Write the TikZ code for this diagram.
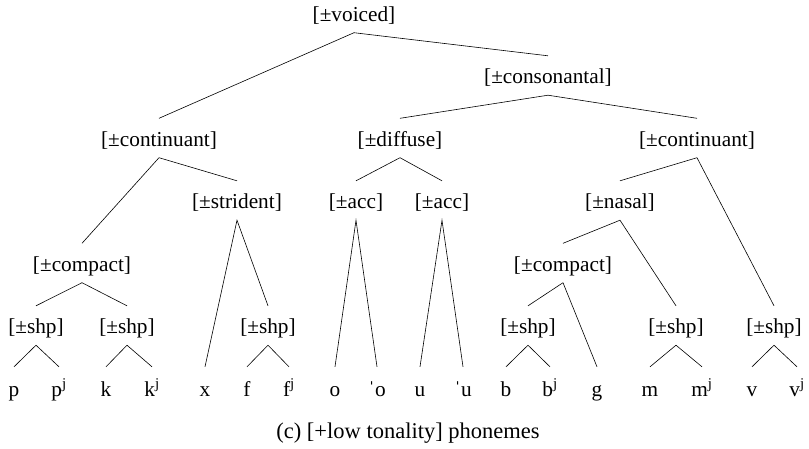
\documentclass[tikz,border=0pt]{standalone}
\usepackage{fontspec}
\setmainfont{Liberation Serif}
\begin{document}
\begin{tikzpicture}[x=1pt,y=-1pt,
  tn/.style={anchor=base,inner sep=0pt,text height=27.5pt,text depth=11.5pt,
    font=\fontsize{21.3}{26}\selectfont},
  leaf/.style={anchor=base,inner sep=0pt,text height=29pt,text depth=5pt,
    font=\fontsize{21.3}{26}\selectfont},
  edge/.style={line width=0.6pt}]
\useasboundingbox (0,0) rectangle (809,448);
% level 0
\node[tn] (voiced) at (354,21) {[±voiced]};
% level 1
\node[tn] (cons) at (548,83.5) {[±consonantal]};
% level 2
\node[tn] (contL) at (159,146) {[±continuant]};
\node[tn] (diff) at (400,146) {[±diffuse]};
\node[tn] (contR) at (697,146) {[±continuant]};
% level 3
\node[tn] (strid) at (237,208.5) {[±strident]};
\node[tn] (accL) at (356,208.5) {[±acc]};
\node[tn] (accR) at (442,208.5) {[±acc]};
\node[tn] (nasal) at (620,208.5) {[±nasal]};
% level 4
\node[tn] (compL) at (82,271) {[±compact]};
\node[tn] (compR) at (563,271) {[±compact]};
% level 5
\node[tn] (shpA) at (36,333.5) {[±shp]};
\node[tn] (shpB) at (127,333.5) {[±shp]};
\node[tn] (shpC) at (268,333.5) {[±shp]};
\node[tn] (shpD) at (528,333.5) {[±shp]};
\node[tn] (shpE) at (676,333.5) {[±shp]};
\node[tn] (shpF) at (774,333.5) {[±shp]};
% leaves
\node[leaf] (p) at (14,396) {p};
\node[leaf] (pj) at (59,396) {p\textsuperscript{j}};
\node[leaf] (k) at (106,396) {k};
\node[leaf] (kj) at (152,396) {k\textsuperscript{j}};
\node[leaf] (x) at (205,396) {x};
\node[leaf] (f) at (247,396) {f};
\node[leaf] (fj) at (289,396) {f\textsuperscript{j}};
\node[leaf] (o) at (335,396) {o};
\node[leaf] (so) at (377,396) {ˈo};
\node[leaf] (u) at (420,396) {u};
\node[leaf] (su) at (463,396) {ˈu};
\node[leaf] (b) at (506,396) {b};
\node[leaf] (bj) at (550,396) {b\textsuperscript{j}};
\node[leaf] (g) at (597,396) {g};
\node[leaf] (m) at (650,396) {m};
\node[leaf] (mj) at (702,396) {m\textsuperscript{j}};
\node[leaf] (v) at (752,396) {v};
\node[leaf] (vj) at (797,396) {v\textsuperscript{j}};
% caption
\node[anchor=base,inner sep=0pt,font=\fontsize{22.5}{27}\selectfont] (cap) at (408,438) {(c) [+low tonality] phonemes};
% edges
\draw[edge] (contL.north) -- (voiced.south) -- (cons.north);
\draw[edge] (diff.north) -- (cons.south) -- (contR.north);
\draw[edge] (compL.north) -- (contL.south) -- (strid.north);
\draw[edge] (accL.north) -- (diff.south) -- (accR.north);
\draw[edge] (nasal.north) -- (contR.south) -- (shpF.north);
\draw[edge] (x.north) -- (strid.south) -- (shpC.north);
\draw[edge] (o.north) -- (accL.south) -- (so.north);
\draw[edge] (u.north) -- (accR.south) -- (su.north);
\draw[edge] (compR.north) -- (nasal.south) -- (shpE.north);
\draw[edge] (shpA.north) -- (compL.south) -- (shpB.north);
\draw[edge] (shpD.north) -- (compR.south) -- (g.north);
\draw[edge] (p.north) -- (shpA.south) -- (pj.north);
\draw[edge] (k.north) -- (shpB.south) -- (kj.north);
\draw[edge] (f.north) -- (shpC.south) -- (fj.north);
\draw[edge] (b.north) -- (shpD.south) -- (bj.north);
\draw[edge] (m.north) -- (shpE.south) -- (mj.north);
\draw[edge] (v.north) -- (shpF.south) -- (vj.north);
\end{tikzpicture}
\end{document}
